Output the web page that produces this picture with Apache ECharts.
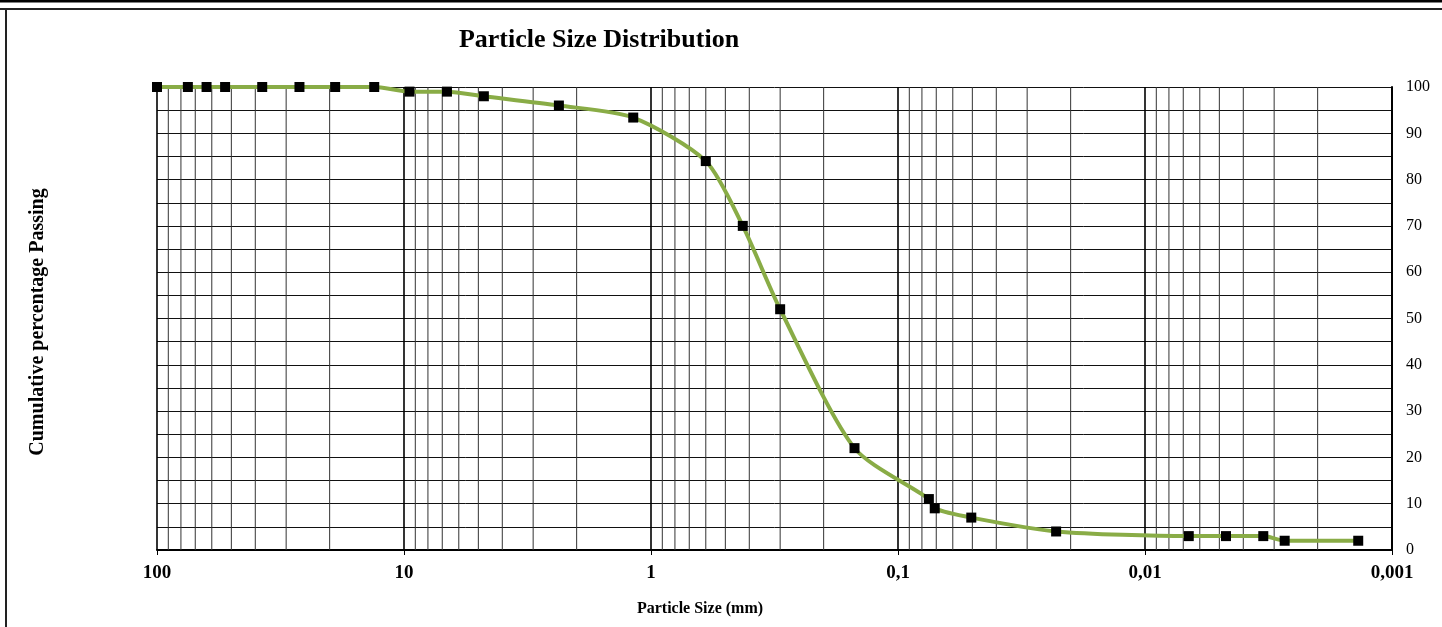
<!DOCTYPE html>
<html>
<head>
<meta charset="utf-8">
<title>Particle Size Distribution</title>
<script src="https://cdn.jsdelivr.net/npm/echarts@6/dist/echarts.min.js"></script>
<style>
  html, body { margin: 0; padding: 0; background: #ffffff; }
  #chart { width: 1442px; height: 627px; }
</style>
</head>
<body>
<div id="chart"></div>
<script>
// Sieve / hydrometer particle sizes (mm) and cumulative % passing
const particleSizes = [100, 75, 63, 53, 37.5, 26.5, 19, 13.2, 9.5, 6.7, 4.75, 2.36, 1.18, 0.6, 0.425, 0.3, 0.15, 0.075, 0.071, 0.0505, 0.0229, 0.00665, 0.0047, 0.00332, 0.00272, 0.00137];
const percentPassing = [100, 100, 100, 100, 100, 100, 100, 100, 99, 99, 98, 96, 93.4, 84, 70, 52, 22, 11, 9, 7, 4, 3, 3, 3, 2, 2];

// Decade tick labels of the size axis (comma decimal separator)
const decadeValues = [0.001, 0.01, 0.1, 1, 10, 100];
const decadeLabels = ['0,001', '0,01', '0,1', '1', '10', '100'];

// Intermediate log grid lines: 2..9 times each decade
const minorMultipliers = [2, 3, 4, 5, 6, 7, 8, 9];
const minorGridValues = [];
decadeValues.slice(0, -1).forEach(d => minorMultipliers.forEach(m => minorGridValues.push(+(d * m).toPrecision(6))));

// Vertical segments spanning the full percentage range, separated by gaps
const minorGridPoints = [];
minorGridValues.forEach(v => { minorGridPoints.push([v, 0], [v, 100], [v, '-']); });

const serif = 'Liberation Serif';
const chart = echarts.init(document.getElementById('chart'), null, { renderer: 'canvas' });

chart.setOption({
  animation: false,
  backgroundColor: '#ffffff',
  title: {
    text: 'Particle Size Distribution',
    left: 594,
    textAlign: 'center',
    top: 22,
    textStyle: { fontFamily: serif, fontWeight: 'bold', fontSize: 26, color: '#000' }
  },
  grid: { left: 157, right: 50, top: 87, bottom: 77, containLabel: false },
  xAxis: {
    type: 'log',
    logBase: 10,
    min: 0.001,
    max: 100,
    inverse: true,
    axisLine: { show: true, lineStyle: { color: '#000', width: 2 } },
    axisTick: { show: true, length: 5, lineStyle: { color: '#000', width: 1 } },
    axisLabel: {
      margin: 14,
      fontFamily: serif,
      fontWeight: 'bold',
      fontSize: 19,
      color: '#000',
      formatter: v => {
        const i = decadeValues.findIndex(d => Math.abs(Math.log10(d) - Math.log10(v)) < 1e-6);
        return i >= 0 ? decadeLabels[i] : '';
      }
    },
    splitLine: { show: true, lineStyle: { color: '#000', width: 1.6 } },
    minorTick: { show: false },
    minorSplitLine: { show: false }
  },
  yAxis: {
    type: 'value',
    position: 'right',
    min: 0,
    max: 100,
    interval: 10,
    axisLine: { show: true, lineStyle: { color: '#000', width: 2 } },
    axisTick: { show: false },
    axisLabel: { margin: 14, fontFamily: serif, fontSize: 16, color: '#000' },
    splitLine: { show: true, lineStyle: { color: '#111', width: 1 } },
    minorTick: { show: false, splitNumber: 2 },
    minorSplitLine: { show: true, lineStyle: { color: '#111', width: 1 } }
  },
  graphic: [
    // page frame
    { type: 'rect', shape: { x: 0, y: 0, width: 1442, height: 2.5 }, style: { fill: '#000' }, silent: true },
    { type: 'rect', shape: { x: 0, y: 8, width: 1442, height: 2 }, style: { fill: '#222' }, silent: true },
    { type: 'rect', shape: { x: 5, y: 8, width: 2, height: 619 }, style: { fill: '#222' }, silent: true },
    {
      type: 'text',
      x: 38, y: 322,
      rotation: Math.PI / 2,
      style: {
        text: 'Cumulative percentage Passing',
        font: 'bold 20px "Liberation Serif"',
        fill: '#000',
        align: 'center',
        verticalAlign: 'middle'
      },
      silent: true
    },
    {
      type: 'text',
      x: 700, y: 609,
      style: {
        text: 'Particle Size (mm)',
        font: 'bold 16px "Liberation Serif"',
        fill: '#000',
        align: 'center',
        verticalAlign: 'middle'
      },
      silent: true
    }
  ],
  series: [
    {
      // log grid lines between decades
      name: 'grid',
      type: 'line',
      z: 1,
      silent: true,
      connectNulls: false,
      symbol: 'none',
      data: minorGridPoints,
      lineStyle: { color: '#333', width: 1 }
    },
    {
      name: 'Passing',
      type: 'line',
      z: 5,
      smooth: 0.25,
      data: particleSizes.map((s, i) => [s, percentPassing[i]]),
      lineStyle: { color: '#89ac46', width: 4 },
      symbol: 'rect',
      symbolSize: 10,
      itemStyle: { color: '#000', borderWidth: 0 }
    }
  ]
});
</script>
</body>
</html>
